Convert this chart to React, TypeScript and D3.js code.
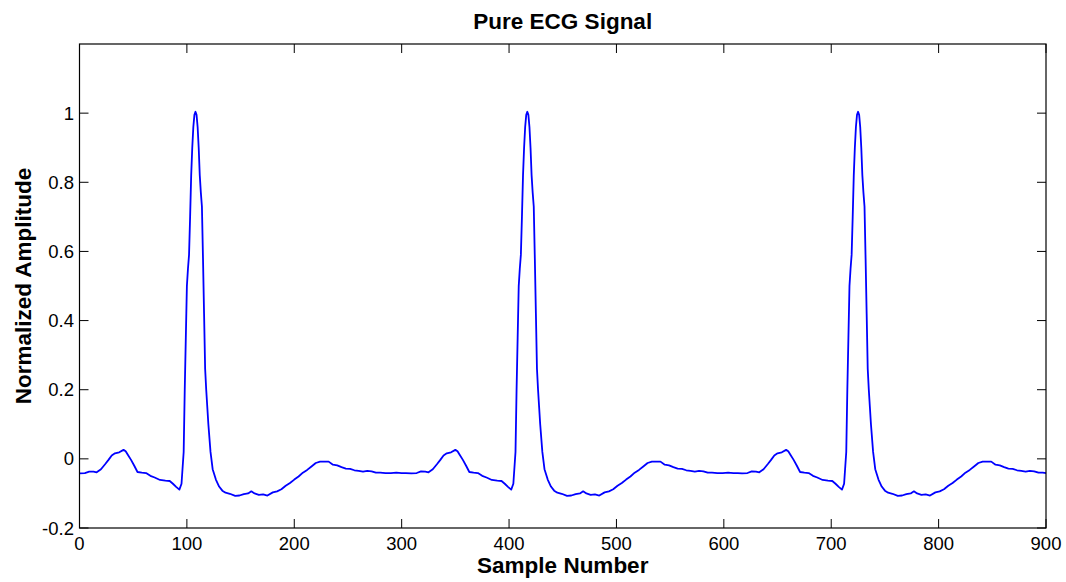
import React from "react";
import * as d3 from "d3";

const title = "Pure ECG Signal";
const xLabel = "Sample Number";
const yLabel = "Normalized Amplitude";
const xTicks = [0, 100, 200, 300, 400, 500, 600, 700, 800, 900];
const yTicks = [-0.2, 0, 0.2, 0.4, 0.6, 0.8, 1];

const samples = [
  0, 5, 9, 13, 16, 20, 24, 27, 30, 33, 37, 41, 43, 45, 48, 51, 54, 58, 62, 66, 70, 75, 80, 84, 87, 90, 93, 95,
  97, 98, 99, 100, 101, 102, 103, 104, 105, 106, 107, 108, 109, 110, 111, 112, 113, 114, 115, 116, 117, 118, 119, 120, 122, 124,
  127, 130, 133, 136, 140, 145, 149, 153, 157, 160, 163, 167, 171, 175, 180, 184, 188, 192, 196, 200, 204, 208, 212, 216, 220,
  224, 228, 232, 236, 240, 244, 248, 252, 256, 260, 264, 268, 272, 276, 280, 285, 290, 295, 300, 304,
  309, 314, 318, 322, 325, 329, 333, 336, 339, 342, 346, 350, 352, 354, 357, 360, 363, 367, 371, 375, 379, 384, 389, 393, 396, 399, 402, 404,
  406, 407, 408, 409, 410, 411, 412, 413, 414, 415, 416, 417, 418, 419, 420, 421, 422, 423, 424, 425, 426, 427, 428, 429, 431, 433,
  436, 439, 442, 445, 449, 454, 458, 462, 466, 469, 472, 476, 480, 484, 489, 493, 497, 501, 505, 509, 513, 517, 521, 525, 529,
  533, 537, 541, 545, 549, 553, 557, 561, 565, 569, 573, 577, 581, 585, 589, 594, 599, 604, 609, 613,
  617, 622, 626, 630, 633, 637, 641, 644, 647, 650, 654, 658, 660, 662, 665, 668, 671, 675, 679, 683, 687, 692, 697, 701, 704, 707, 710, 712,
  714, 715, 716, 717, 718, 719, 720, 721, 722, 723, 724, 725, 726, 727, 728, 729, 730, 731, 732, 733, 734, 735, 736, 737, 739, 741,
  744, 747, 750, 753, 757, 762, 766, 770, 774, 777, 780, 784, 788, 792, 797, 801, 805, 809, 813, 817, 821, 825, 829, 833, 837,
  841, 845, 849, 853, 857, 861, 865, 869, 873, 877, 881, 885, 889, 893, 897, 900,
];

const amplitude = [
  -0.042, -0.041, -0.037, -0.037, -0.039, -0.030, -0.015, -0.003, 0.010, 0.016, 0.019, 0.026, 0.022, 0.012, -0.003, -0.020, -0.038, -0.040, -0.041, -0.049, -0.054, -0.061, -0.063, -0.064, -0.072, -0.081, -0.089, -0.072,
  0.02, 0.2, 0.35, 0.5, 0.55, 0.59, 0.7, 0.82, 0.9, 0.96, 0.995, 1.004, 0.995, 0.96, 0.9, 0.82, 0.77, 0.73, 0.58, 0.42, 0.26, 0.2, 0.15, 0.1, 0.02, -0.03,
  -0.060, -0.080, -0.092, -0.098, -0.101, -0.107, -0.106, -0.102, -0.100, -0.094, -0.100, -0.104, -0.103, -0.106, -0.097, -0.094, -0.088, -0.078, -0.070, -0.060, -0.051, -0.040, -0.032, -0.022, -0.012,
  -0.008, -0.008, -0.008, -0.017, -0.019, -0.024, -0.028, -0.029, -0.033, -0.035, -0.037, -0.035, -0.036, -0.040, -0.040, -0.041, -0.041, -0.040, -0.041, -0.041,
  -0.042, -0.041, -0.036, -0.037, -0.039, -0.030, -0.015, -0.003, 0.010, 0.016, 0.019, 0.026, 0.022, 0.012, -0.003, -0.020, -0.038, -0.040, -0.041, -0.049, -0.054, -0.061, -0.063, -0.064, -0.072, -0.081, -0.089, -0.072,
  0.02, 0.2, 0.35, 0.5, 0.55, 0.59, 0.7, 0.82, 0.9, 0.96, 0.995, 1.004, 0.995, 0.96, 0.9, 0.82, 0.77, 0.73, 0.58, 0.42, 0.26, 0.2, 0.15, 0.1, 0.02, -0.03,
  -0.060, -0.080, -0.092, -0.098, -0.101, -0.107, -0.106, -0.102, -0.100, -0.094, -0.100, -0.104, -0.103, -0.106, -0.097, -0.094, -0.088, -0.078, -0.070, -0.060, -0.051, -0.040, -0.032, -0.022, -0.012,
  -0.008, -0.008, -0.008, -0.017, -0.019, -0.024, -0.028, -0.029, -0.033, -0.035, -0.037, -0.035, -0.036, -0.040, -0.040, -0.041, -0.041, -0.040, -0.041, -0.041,
  -0.042, -0.041, -0.036, -0.037, -0.039, -0.030, -0.015, -0.003, 0.010, 0.016, 0.019, 0.026, 0.022, 0.012, -0.003, -0.020, -0.038, -0.040, -0.041, -0.049, -0.054, -0.061, -0.063, -0.064, -0.072, -0.081, -0.089, -0.072,
  0.02, 0.2, 0.35, 0.5, 0.55, 0.59, 0.7, 0.82, 0.9, 0.96, 0.995, 1.004, 0.995, 0.96, 0.9, 0.82, 0.77, 0.73, 0.58, 0.42, 0.26, 0.2, 0.15, 0.1, 0.02, -0.03,
  -0.060, -0.080, -0.092, -0.098, -0.101, -0.107, -0.106, -0.102, -0.100, -0.094, -0.100, -0.104, -0.103, -0.106, -0.097, -0.094, -0.088, -0.078, -0.070, -0.060, -0.051, -0.040, -0.032, -0.022, -0.012,
  -0.008, -0.008, -0.008, -0.017, -0.019, -0.024, -0.028, -0.029, -0.033, -0.035, -0.037, -0.035, -0.036, -0.040, -0.040, -0.041,
];

const W = 1066;
const H = 582;
const left = 79.5;
const right = 1046;
const top = 44;
const bottom = 528;
const font = "Arial, 'Liberation Sans', Helvetica, sans-serif";

export default function App() {
  const x = d3.scaleLinear().domain([0, 900]).range([left, right]);
  const y = d3.scaleLinear().domain([-0.2, 1.2]).range([bottom, top]);
  const data = samples.map((s, i) => [s, amplitude[i]] as [number, number]);
  const line = d3
    .line<[number, number]>()
    .x((d) => x(d[0]))
    .y((d) => y(d[1]));
  const tl = 9;
  return (
    <svg
      width={W}
      height={H}
      style={{ position: "absolute", left: 0, top: 0, background: "#fff" }}
      fontFamily={font}
    >
      <rect x={0} y={0} width={W} height={H} fill="#fff" />
      <path d={line(data) || ""} fill="none" stroke="#0000ff" strokeWidth={1.8} strokeLinejoin="round" />
      <rect x={left} y={top} width={right - left} height={bottom - top} fill="none" stroke="#000" strokeWidth={1.2} />
      {xTicks.map((t) => (
        <g key={"x" + t}>
          <line x1={x(t)} x2={x(t)} y1={bottom} y2={bottom - tl} stroke="#000" strokeWidth={1} />
          <line x1={x(t)} x2={x(t)} y1={top} y2={top + tl} stroke="#000" strokeWidth={1} />
          <text x={x(t)} y={550} textAnchor="middle" fontSize={18.5} fill="#000">
            {t}
          </text>
        </g>
      ))}
      {yTicks.map((t) => (
        <g key={"y" + t}>
          <line x1={left} x2={left + tl} y1={y(t)} y2={y(t)} stroke="#000" strokeWidth={1} />
          <line x1={right} x2={right - tl} y1={y(t)} y2={y(t)} stroke="#000" strokeWidth={1} />
          <text x={74} y={y(t) + 6.5} textAnchor="end" fontSize={18.5} fill="#000">
            {String(t)}
          </text>
        </g>
      ))}
      <text x={(left + right) / 2} y={29} textAnchor="middle" fontSize={22.5} fontWeight="bold" fill="#000">
        {title}
      </text>
      <text x={(left + right) / 2} y={573} textAnchor="middle" fontSize={22.5} fontWeight="bold" fill="#000">
        {xLabel}
      </text>
      <text
        transform={`translate(31, ${(top + bottom) / 2}) rotate(-90)`}
        textAnchor="middle"
        fontSize={22.5}
        fontWeight="bold"
        fill="#000"
      >
        {yLabel}
      </text>
    </svg>
  );
}
